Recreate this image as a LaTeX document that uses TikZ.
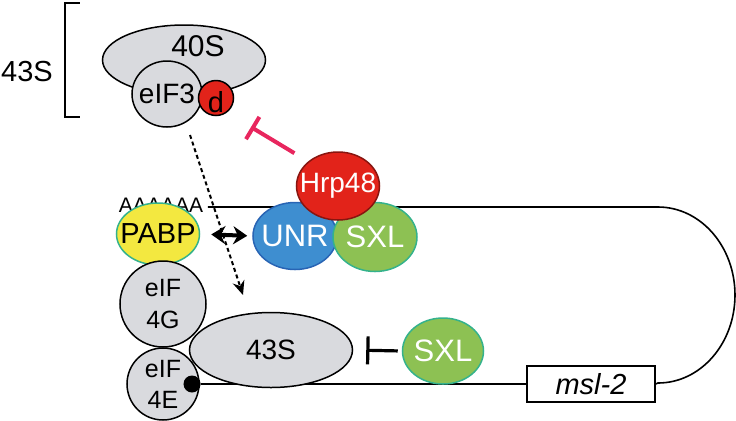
\documentclass[tikz,border=0pt]{standalone}
\usepackage{fontspec}
\setmainfont{Liberation Sans}
\usetikzlibrary{shapes.geometric, arrows.meta, positioning, calc}
\definecolor{ribogray}{RGB}{217, 218, 222}
\definecolor{hrpred}{RGB}{226, 35, 26}
\definecolor{pabpyellow}{RGB}{243, 232, 64}
\definecolor{unrblue}{RGB}{62, 142, 208}
\definecolor{unrrim}{RGB}{40, 100, 180}
\definecolor{sxlgreen}{RGB}{141, 193, 83}
\definecolor{rimteal}{RGB}{52, 178, 140}
\definecolor{inhibred}{RGB}{232, 38, 94}
\newcommand{\protfont}{\fontsize{15.5}{17}\selectfont}
\newcommand{\ribofont}{\fontsize{14.5}{16}\selectfont}

\begin{document}
\begin{tikzpicture}[x=0.5pt, y=-0.5pt,
		blob/.style={ellipse, draw=black, fill=ribogray, line width=0.75pt, inner sep=0pt},
		prot/.style={ellipse, line width=0.75pt, inner sep=0pt},
		inlbl/.style={inner sep=0pt, font=\protfont},
		rna/.style={line width=0.8pt},
		block/.style={line width=1.6pt}]
	\useasboundingbox (0,0) rectangle (736,420);

	% 43S Complex (40S + eIF3)
	\node[blob, minimum width=81.5pt, minimum height=35pt] (s40) at (184,60) {};
	\node[font=\fontsize{15}{17}\selectfont] (t40) at (198,46) {40S};
	\node[blob, minimum width=35pt, minimum height=33pt, label={[inlbl, font=\fontsize{14}{16}\selectfont]center:eIF3}] (eif3) at (167,94) {};
	\node[prot, draw=black, fill=hrpred, minimum width=17.5pt, minimum height=17.5pt, label={[inlbl, font=\ribofont, yshift=-2pt]center:d}] (eif3d) at (216,98) {};

	% Bracket and Label
	\draw[line width=0.75pt] (80,3) -- (65,3) -- (65,117) -- (80,117);
	\node[font=\ribofont] (lbl43) at (27,72) {43S};

	% mRNA (Poly-A Tail to Cap)
	\node[font=\fontsize{10.5}{12}\selectfont, inner sep=0pt] (polya) at (161,205) {AAAAAA};
	\coordinate (rnatop) at (208,207);
	\node[draw=black, line width=0.75pt, minimum width=64pt, minimum height=18pt, inner sep=0pt, font=\ribofont\itshape] (msl) at (591,384) {msl-2};
	\draw[rna] (rnatop) -- (658,207) arc[start angle=-90, end angle=90, x radius=77, y radius=88] -- (msl.east);
	\node[circle, fill=black, minimum size=8.5pt, inner sep=0pt] (cap) at (192,384) {};
	\draw[rna] (cap) -- (msl.west);

	% Closed-Loop Factors
	\node[prot, draw=rimteal, fill=pabpyellow, minimum width=41.5pt, minimum height=31pt, label={[inlbl, font=\fontsize{14.5}{16}\selectfont]center:PABP}] (pabp) at (158,234) {};
	\node[blob, circle, minimum size=43pt, align=center, font=\fontsize{12.5}{16}\selectfont] (eif4g) at (163,304) {eIF\\4G};
	\node[blob, circle, minimum size=36pt, align=center, font=\fontsize{12.5}{15.5}\selectfont] (eif4e) at (163,384) {eIF\\4E};
	\node[circle, fill=black, minimum size=8.5pt, inner sep=0pt] at (cap) {};
	\node[blob, minimum width=81.5pt, minimum height=37.5pt, label={[inlbl, font=\fontsize{14}{16}\selectfont]center:43S}] (s43) at (271,350) {};

	% Repressor Complex on the 3' UTR
	\node[prot, draw=unrrim, fill=unrblue, minimum width=42pt, minimum height=33.5pt, label={[inlbl, text=white]center:UNR}] (unr) at (295,236) {};
	\node[prot, draw=rimteal, fill=sxlgreen, minimum width=42pt, minimum height=34.5pt, label={[inlbl, text=white]center:SXL}] (sxl) at (375,237) {};
	\node[prot, draw=hrpred!60!black, fill=hrpred, minimum width=41.5pt, minimum height=34pt, label={[inlbl, text=white, font=\fontsize{14}{16}\selectfont]center:Hrp48}] (hrp) at (338,186) {};
	\node[prot, draw=rimteal, fill=sxlgreen, minimum width=40.5pt, minimum height=33pt, label={[inlbl, text=white]center:SXL}] (sxl2) at (443,351) {};

	% Interactions
	\coordinate (inhend) at (251,127);
	\draw[inhibred, line width=2pt, -{Bar[width=13pt]}, shorten <=8pt] (hrp.north west) -- (inhend);
	\draw[line width=2pt, {Stealth[length=7pt, width=9pt]}-{Stealth[length=7pt, width=9pt]}, shorten <=5.5pt, shorten >=2.5pt] (pabp.east) -- (unr.west);
	\draw[block, -{Bar[width=14pt]}, shorten <=2pt, shorten >=6.5pt] (sxl2.west) -- (s43.east);

	% Scanning Path (dotted)
	\coordinate (dropstart) at (190,135);
	\coordinate (dropend) at (243,295);
	\draw[line width=1pt, dash pattern=on 2pt off 1.5pt, -{Stealth[length=7pt, width=6pt]}] (dropstart) -- (dropend);
\end{tikzpicture}
\end{document}
